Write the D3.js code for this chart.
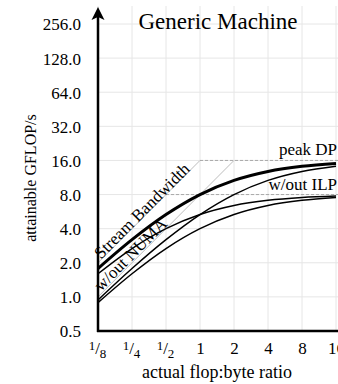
<!DOCTYPE html>
<html>
<head>
<meta charset="utf-8">
<script src="https://cdn.jsdelivr.net/npm/d3@7"></script>
<style>
  body { margin: 0; background: #fff; }
  svg { display: block; }
  svg text { font-family: "Liberation Serif", "DejaVu Serif", serif; fill: #000; }
</style>
</head>
<body>
<div id="chart"></div>
<script>
// ratio ticks on x, GFLOP/s ticks on y
var xTicks = [1/8, 1/4, 1/2, 1, 2, 4, 8, 16];
var xTickLabels = [["1", "8"], ["1", "4"], ["1", "2"], "1", "2", "4", "8", "16"];
var yTicks = [0.5, 1, 2, 4, 8, 16, 32, 64, 128, 256];

// ceilings
var peakDP = 16;
var noILP = 8;
var streamBW = [[1/8, 2], [1, 16]];
var numaBW = [[1/8, 1], [2, 16]];

// measured curves, read at each x tick
var curveFull = [1.78, 3.2, 5.33, 8.0, 10.67, 12.8, 14.22, 15.06];
var curveNoNuma = [0.94, 1.78, 3.2, 5.33, 8.0, 10.67, 12.8, 14.22];
var curveNoIlp = [1.6, 2.67, 4.0, 5.33, 6.4, 7.11, 7.53, 7.76];
var curveNoBoth = [0.89, 1.6, 2.67, 4.0, 5.33, 6.4, 7.11, 7.53];

var W = 338, H = 384;
var svg = d3.select("#chart").append("svg").attr("width", W).attr("height", H);

var x = d3.scaleLog().base(2).domain([1/8, 16]).range([98, 336]);
var y = d3.scaleLog().base(2).domain([0.5, 256]).range([331, 24]);

// grid
svg.append("g").selectAll("line").data(xTicks).enter().append("line")
  .attr("x1", function(d) { return x(d); }).attr("x2", function(d) { return x(d); })
  .attr("y1", 331).attr("y2", 6)
  .attr("stroke", "#e6e6e6").attr("stroke-width", 1);
svg.append("g").selectAll("line").data(yTicks.slice(1)).enter().append("line")
  .attr("x1", 98).attr("x2", W)
  .attr("y1", function(d) { return y(d); }).attr("y2", function(d) { return y(d); })
  .attr("stroke", "#e6e6e6").attr("stroke-width", 1);

// y tick labels
var yAxis = d3.axisLeft(y).tickValues(yTicks).tickFormat(d3.format(".1f")).tickSize(0).tickPadding(17);
var gy = svg.append("g").attr("transform", "translate(98,0)").call(yAxis);
gy.attr("font-family", null).attr("font-size", null);
gy.select(".domain").remove();
gy.selectAll("text").attr("font-size", 17).attr("fill", "#000").attr("dy", "0.35em");

// x tick labels
var xAxis = d3.axisBottom(x).tickValues(xTicks).tickSize(0).tickPadding(0).tickFormat(function() { return ""; });
var gx = svg.append("g").attr("transform", "translate(0,331)").call(xAxis);
gx.attr("font-family", null).attr("font-size", null);
gx.select(".domain").remove();
gx.selectAll(".tick text").each(function(d, i) {
  var t = d3.select(this).attr("font-size", 17).attr("fill", "#000").attr("y", 23).attr("dy", null);
  var lab = xTickLabels[i];
  if (Array.isArray(lab)) {
    t.attr("x", -1);
    t.append("tspan").attr("font-size", 13).attr("dy", -4).text(lab[0]);
    t.append("tspan").attr("font-size", 17).attr("dy", 4).text("/");
    t.append("tspan").attr("font-size", 13).attr("dy", 4).text(lab[1]);
  } else {
    t.text(lab);
  }
});

// bandwidth roofs (gray)
var line = d3.line().x(function(d) { return x(d[0]); }).y(function(d) { return y(d[1]); });
svg.append("path").attr("d", line(streamBW)).attr("fill", "none").attr("stroke", "#bdbdbd").attr("stroke-width", 1);
svg.append("path").attr("d", line(numaBW)).attr("fill", "none").attr("stroke", "#bdbdbd").attr("stroke-width", 1);

// compute ceilings (dashed)
svg.append("line").attr("x1", x(1)).attr("x2", W).attr("y1", y(peakDP)).attr("y2", y(peakDP))
  .attr("stroke", "#999").attr("stroke-width", 0.8).attr("stroke-dasharray", "3,2");
svg.append("line").attr("x1", x(1/2)).attr("x2", W).attr("y1", y(noILP)).attr("y2", y(noILP))
  .attr("stroke", "#999").attr("stroke-width", 0.8).attr("stroke-dasharray", "3,2");

// measured curves
var curve = d3.line().curve(d3.curveMonotoneX)
  .x(function(d, i) { return x(xTicks[i]); }).y(function(d) { return y(d); });
[curveNoBoth, curveNoIlp, curveNoNuma].forEach(function(c) {
  svg.append("path").attr("d", curve(c)).attr("fill", "none").attr("stroke", "#000").attr("stroke-width", 1.5);
});
svg.append("path").attr("d", curve(curveFull)).attr("fill", "none").attr("stroke", "#000").attr("stroke-width", 3);

// line labels
svg.append("text").attr("transform", "translate(" + (x(1/8) + 3) + "," + (y(2) - 3) + ") rotate(-45)")
  .attr("font-size", 17).text("Stream Bandwidth");
svg.append("text").attr("transform", "translate(" + (x(1/8) + 3) + "," + (y(1) - 5) + ") rotate(-45)")
  .attr("font-size", 17).text("w/out NUMA");
svg.append("text").attr("x", 337).attr("y", y(peakDP) - 5).attr("text-anchor", "end")
  .attr("font-size", 17).text("peak DP");
svg.append("text").attr("x", 337).attr("y", y(noILP) - 5).attr("text-anchor", "end")
  .attr("font-size", 17).text("w/out ILP");

// axes
svg.append("line").attr("x1", 97).attr("x2", W).attr("y1", 331).attr("y2", 331).attr("stroke", "#000").attr("stroke-width", 2.5);
svg.append("line").attr("x1", 98).attr("x2", 98).attr("y1", 332).attr("y2", 16).attr("stroke", "#000").attr("stroke-width", 2.5);
svg.append("path").attr("d", "M98,7 L104.5,20 L98,17 L91.5,20 Z").attr("fill", "#000");

// titles
svg.append("text").attr("x", 218).attr("y", 29).attr("text-anchor", "middle").attr("font-size", 23).text("Generic Machine");
svg.append("text").attr("x", 217).attr("y", 378).attr("text-anchor", "middle").attr("font-size", 18).text("actual flop:byte ratio");
svg.append("text").attr("transform", "translate(36,178) rotate(-90)").attr("text-anchor", "middle")
  .attr("font-size", 16).text("attainable GFLOP/s");
</script>
</body>
</html>
